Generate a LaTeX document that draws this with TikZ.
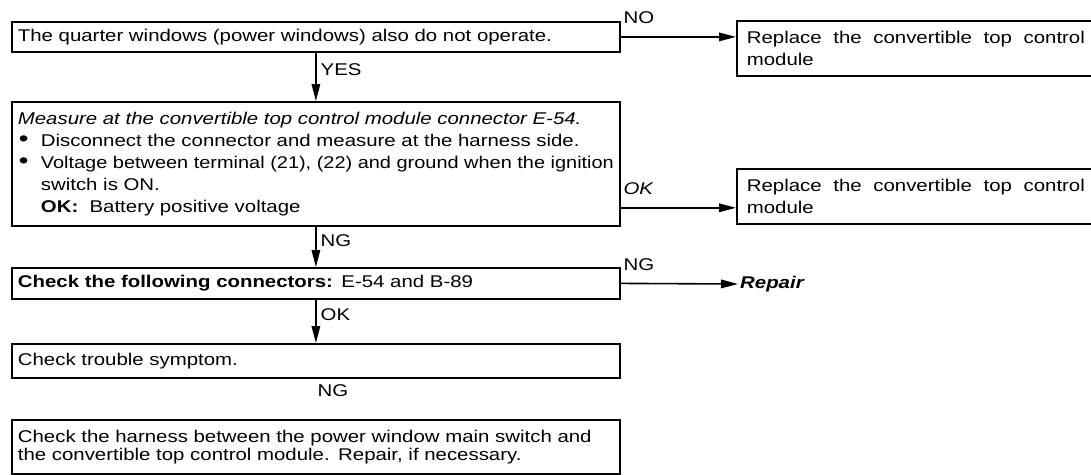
\documentclass[tikz,border=0pt]{standalone}
\usepackage{graphicx}
\usepackage{fontspec}
\setmainfont{Liberation Sans}[FakeStretch=1.2]
\usetikzlibrary{arrows.meta}
\newcommand{\bul}{\makebox[23pt][l]{\hspace{1pt}\scalebox{1.35}{\textbullet}}}

\begin{document}
\begin{tikzpicture}[x=1pt,y=-1pt,>={Triangle[length=17pt,width=8.5pt]},every node/.style={font=\fontsize{17pt}{22pt}\selectfont},box/.style={draw,line width=1.8pt,anchor=north west,inner xsep=6pt,inner ysep=0pt,text width=596pt,align=left},side/.style={box,inner xsep=10pt,text width=338pt,align=justify,minimum height=55pt},flow/.style={->,line width=1.6pt},tag/.style={above right,pos=0,yshift=10pt,inner sep=2pt},vtag/.style={right,pos=0.35,inner sep=4pt}]
\useasboundingbox (0,0) rectangle (1091,474);
% left column
\node[box,minimum height=30pt] (quarter) at (11,21) {\makebox[580pt][s]{The quarter windows (power windows) also do not operate.}};
\node[box,minimum height=124pt] (measure) at (11,101) {\makebox[\linewidth][s]{\itshape Measure at the convertible top control module connector E-54.}\\
\bul\makebox[573pt][s]{Disconnect the connector and measure at the harness side.}\\
\bul\resizebox{573pt}{\height}{Voltage between terminal (21), (22) and ground when the ignition}\\
\hspace*{23pt}switch is ON.\\
\hspace*{23pt}\textbf{OK:}\ \ Battery positive voltage};
\node[box,minimum height=31pt] (conn) at (11,267) {\makebox[478pt][s]{\textbf{Check the following connectors:} E-54 and B-89}};
\node[box,minimum height=34pt] (symptom) at (11,343) {Check trouble symptom.};
\node (ngtext) at (333,391) {NG};
\node[box,minimum height=54pt,font=\fontsize{17pt}{18pt}\selectfont] (harness) at (11,419) {Check the harness between the power window main switch and the convertible top control module. Repair, if necessary.};
% right column
\node[side] (replA) at (736,20) {Replace the convertible top control module};
\node[side] (replB) at (736,168) {Replace the convertible top control module};
\node[anchor=west,inner sep=2pt,font=\fontsize{17pt}{22pt}\selectfont\bfseries\itshape] (repair) at (738,284) {Repair};
% connectors
\draw[flow] (quarter.south) -- node[vtag]{YES} (measure.north);
\draw[flow] (measure.south) -- node[vtag]{NG} (conn.north);
\draw[flow] (conn.south) -- node[vtag]{OK} (symptom.north);
\draw[flow] (quarter.east) -- node[tag]{NO} (quarter.east -| replA.west);
\draw[flow] ([yshift=19pt]measure.south east) coordinate (okout) -- node[tag]{\itshape OK} (okout -| replB.west);
\draw[flow] (conn.east) -- node[tag]{NG} (repair.west);
\end{tikzpicture}
\end{document}
